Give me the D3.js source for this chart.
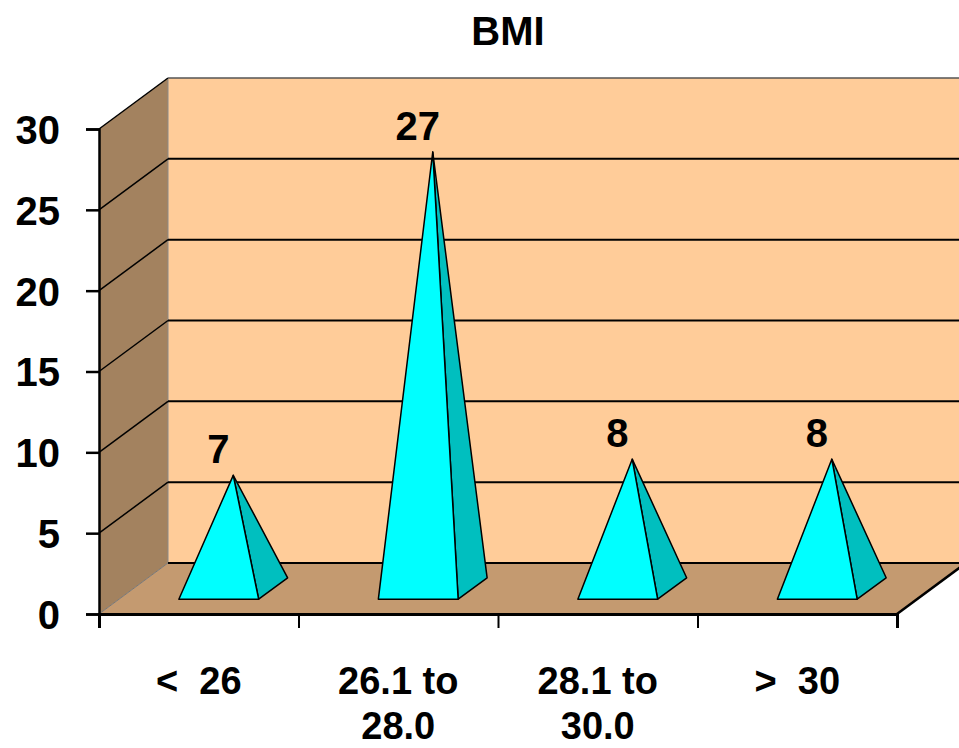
<!DOCTYPE html>
<html>
<head>
<meta charset="utf-8">
<script src="https://cdn.jsdelivr.net/npm/d3@7"></script>
<style>
  html, body { margin: 0; padding: 0; background: #fff; }
  svg { display: block; font-family: "Liberation Sans", Arial, sans-serif; font-weight: bold; }
  text { white-space: pre; }
</style>
</head>
<body>
<svg id="chart" width="959" height="748"></svg>
<script>
// BMI distribution, 3-D pyramid columns
const title = "BMI";
const categories = ["<  26", "26.1 to\n28.0", "28.1 to\n30.0", ">  30"];
const counts = [7, 27, 8, 8];
const yTicks = [0, 5, 10, 15, 20, 25, 30];

const W = 959, H = 748;
const plotLeft = 99, plotRight = 897, plotBase = 614, plotTop = 129;
const DX = 69, DY = -51;             // depth offset of the back wall
const svg = d3.select("#chart");

const x = d3.scaleBand().domain(categories).range([plotLeft, plotRight]);
const y = d3.scaleLinear().domain([0, 30]).range([plotBase, plotTop]);
const edges = d3.scaleLinear().domain([0, categories.length]).range([plotLeft, plotRight]);

const wallColor = "#FFCC99", sideColor = "#A3825F", floorColor = "#C49A70";

// back wall
svg.append("rect")
  .attr("x", plotLeft + DX).attr("y", y(30) + DY)
  .attr("width", W - (plotLeft + DX) + 10).attr("height", y(0) - y(30))
  .attr("fill", wallColor);
svg.append("line")
  .attr("x1", plotLeft + DX).attr("x2", W + 10)
  .attr("y1", y(30) + DY).attr("y2", y(30) + DY)
  .attr("stroke", "#555").attr("stroke-width", 1.5);

// side wall
svg.append("polygon")
  .attr("points", [[plotLeft, y(30)], [plotLeft + DX, y(30) + DY], [plotLeft + DX, y(0) + DY], [plotLeft, y(0)]].join(" "))
  .attr("fill", sideColor);
svg.append("line")
  .attr("x1", plotLeft + DX).attr("x2", plotLeft + DX)
  .attr("y1", y(30) + DY).attr("y2", y(0) + DY)
  .attr("stroke", "#8a8a8a").attr("stroke-width", 1);

// floor
svg.append("polygon")
  .attr("points", [[plotLeft, y(0)], [plotRight, y(0)], [plotRight + DX, y(0) + DY], [plotLeft + DX, y(0) + DY]].join(" "))
  .attr("fill", floorColor);
svg.append("line")
  .attr("x1", plotLeft).attr("y1", y(0)).attr("x2", plotLeft + DX).attr("y2", y(0) + DY)
  .attr("stroke", "#777").attr("stroke-width", 1);
svg.append("line")
  .attr("x1", plotRight).attr("y1", y(0)).attr("x2", plotRight + DX).attr("y2", y(0) + DY)
  .attr("stroke", "#000").attr("stroke-width", 2.5);

// gridlines: back wall and side wall
const grid = svg.append("g");
grid.selectAll("line.back").data(yTicks.filter(d => d < 30)).join("line")
  .attr("class", "back")
  .attr("x1", plotLeft + DX).attr("x2", W + 10)
  .attr("y1", d => y(d) + DY).attr("y2", d => y(d) + DY)
  .attr("stroke", "#000").attr("stroke-width", 2);
grid.selectAll("line.side").data(yTicks.filter(d => d > 0)).join("line")
  .attr("class", "side")
  .attr("x1", plotLeft).attr("x2", plotLeft + DX)
  .attr("y1", d => y(d)).attr("y2", d => y(d) + DY)
  .attr("stroke", "#000").attr("stroke-width", 1.5);

// pyramids
const pw = x.bandwidth() * 0.4;       // base width
const d0 = 0.29, d1 = 0.71;           // front/back depth fractions of the base
const dm = (d0 + d1) / 2;
const pyr = svg.append("g").selectAll("g").data(categories.map((c, i) => ({ c, v: counts[i] }))).join("g");
pyr.each(function(d) {
  const g = d3.select(this);
  const cx = x(d.c) + x.bandwidth() / 2;
  const fl = [cx - pw / 2 + d0 * DX, y(0) + d0 * DY];
  const fr = [cx + pw / 2 + d0 * DX, y(0) + d0 * DY];
  const br = [cx + pw / 2 + d1 * DX, y(0) + d1 * DY];
  const apex = [cx + dm * DX, y(d.v) + dm * DY];
  g.append("polygon").attr("points", [fr, br, apex].join(" "))
    .attr("fill", "#00BFBF").attr("stroke", "#000").attr("stroke-width", 1.5).attr("stroke-linejoin", "round");
  g.append("polygon").attr("points", [fl, fr, apex].join(" "))
    .attr("fill", "#00FFFF").attr("stroke", "#000").attr("stroke-width", 1.5).attr("stroke-linejoin", "round");
  g.append("text")
    .attr("x", apex[0] - 15).attr("y", apex[1] - 12)
    .attr("text-anchor", "middle").attr("font-size", 40)
    .text(d.v);
});

// y axis
const yAxis = svg.append("g").attr("transform", `translate(${plotLeft},0)`)
  .call(d3.axisLeft(y).tickValues(yTicks).tickSize(13).tickPadding(26));
yAxis.select(".domain").attr("stroke", "#000").attr("stroke-width", 2.5);
yAxis.selectAll(".tick line").attr("stroke", "#000").attr("stroke-width", 2.5);
yAxis.selectAll(".tick text").attr("font-size", 40).attr("font-family", "Liberation Sans, Arial, sans-serif")
  .attr("font-weight", "bold").attr("fill", "#000").attr("dy", "0.36em");

// x axis: ticks between categories
const xAxis = svg.append("g").attr("transform", `translate(0,${plotBase})`)
  .call(d3.axisBottom(edges).tickValues(d3.range(categories.length + 1)).tickSize(14).tickFormat(""));
xAxis.select(".domain").attr("stroke", "#000").attr("stroke-width", 3);
xAxis.selectAll(".tick line").attr("stroke", "#000").attr("stroke-width", 2);

// category labels
const lab = svg.append("g").selectAll("text").data(categories).join("text")
  .attr("text-anchor", "middle").attr("font-size", 38)
  .attr("transform", d => `translate(${x(d) + x.bandwidth() / 2},694)`);
lab.selectAll("tspan").data(d => d.split("\n")).join("tspan")
  .attr("x", 0).attr("y", (d, i) => i * 45).text(d => d);

// title
svg.append("text").attr("x", 508).attr("y", 45).attr("text-anchor", "middle")
  .attr("font-size", 40).text(title);
</script>
</body>
</html>
